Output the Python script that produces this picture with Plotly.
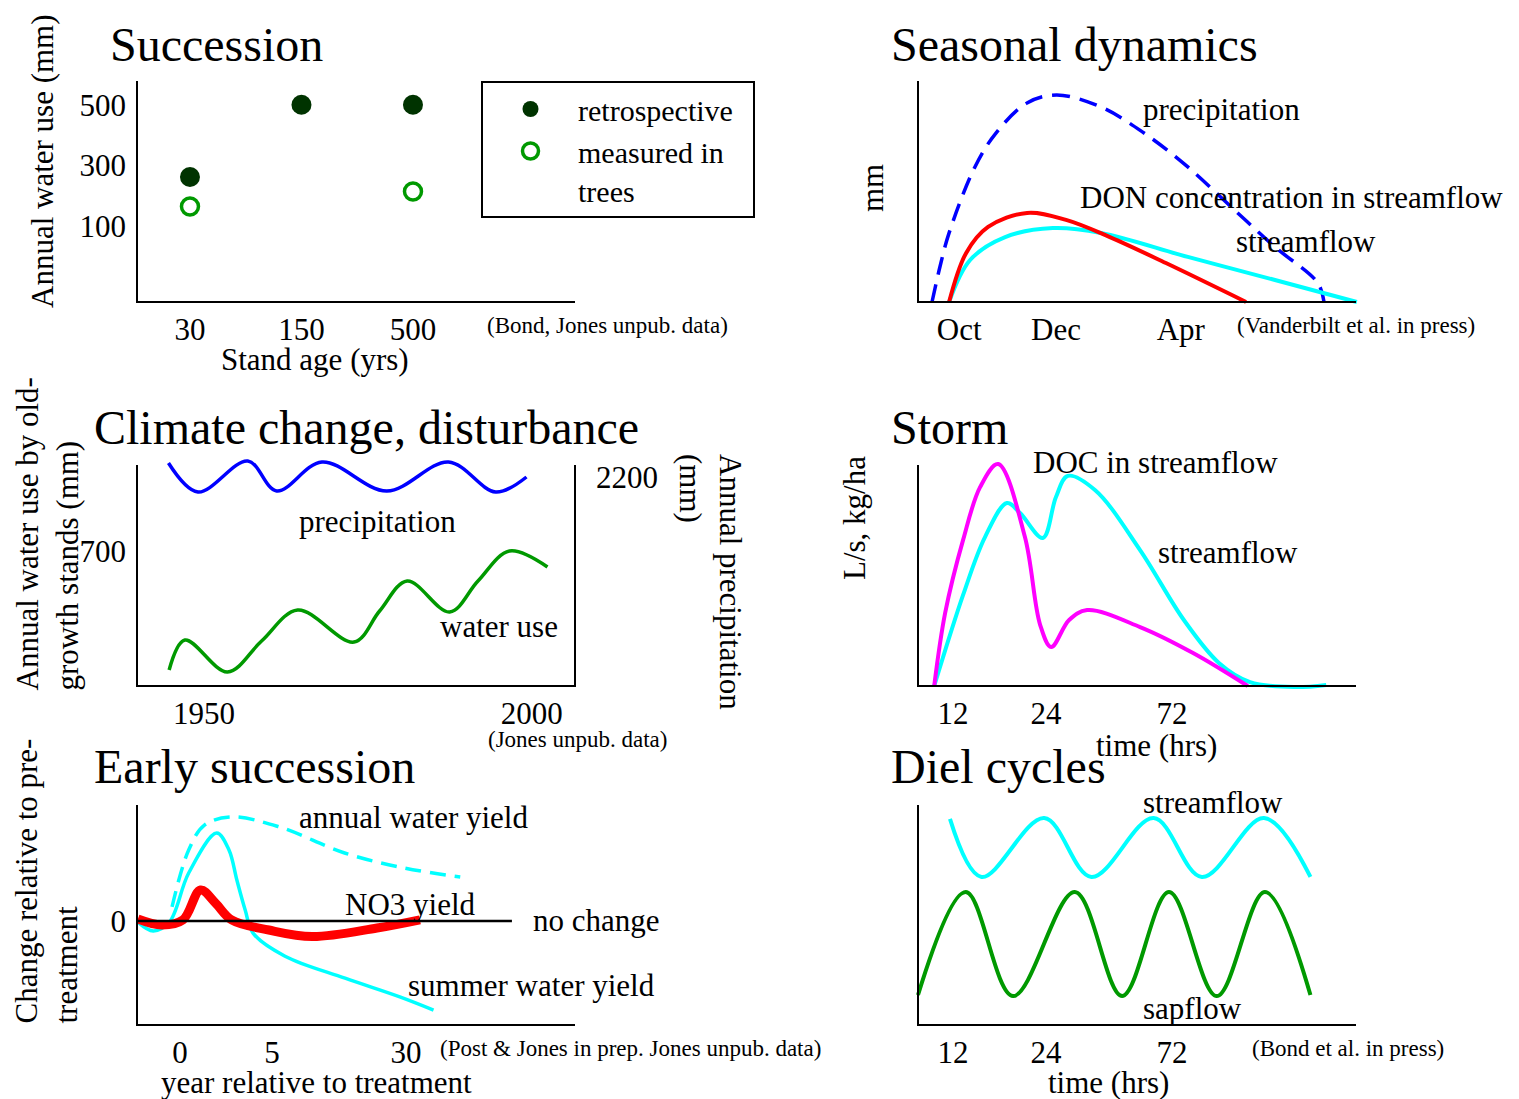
import plotly.graph_objects as go

W, H = 1519, 1099
FONT = "Liberation Serif"

# ---------------- data ----------------
# Panel 1: Succession
stand_age = ["30", "150", "500"]
retrospective_mm = [262, 500, 500]
measured_mm = [165, None, 214]

# Panel 2: Seasonal dynamics (relative units)
season_ticks = ["Oct", "Dec", "Apr"]
season_precip_t = [3.2, 5.0, 7.1, 13.0, 17.8, 24.9, 31.7, 41.8, 51.6, 61.6, 71.5, 81.5, 91.3, 92.7]
season_precip_v = [0, 15.9, 31.4, 61.4, 76.8, 90.5, 94.1, 88.6, 76.8, 61.4, 43.2, 25.0, 8.6, 0]
season_don_t = [7.1, 11.0, 16.0, 24.9, 33.8, 43.8, 56.6, 74.9]
season_don_v = [0, 22.3, 34.1, 40.5, 37.3, 29.5, 17.7, 0]
season_flow_t = [7.1, 11.9, 19.9, 30.8, 41.8, 61.6, 81.5, 100.2]
season_flow_v = [0, 19.1, 29.5, 33.6, 31.4, 20.5, 10.0, 0]

# Panel 3: Climate change, disturbance
climate_year_ticks = [1950, 2000]
climate_precip_year = [1944.6, 1949.1, 1956.7, 1961.1, 1968.0, 1977.9, 1987.3, 1994.5, 1999.2]
climate_precip_mm = [2340, 2050, 2360, 2060, 2350, 2060, 2350, 2050, 2200]
water_use_year = [1944.7, 1947.1, 1953.6, 1958.8, 1964.3, 1972.9, 1976.8, 1981.0, 1987.5, 1991.8, 1996.6, 2002.4]
water_use_mm = [462, 522, 458, 520, 582, 518, 580, 640, 578, 640, 700, 668]

# Panel 4: Storm (relative units)
hour_ticks = ["12", "24", "72"]
doc_t = [3.7, 6.2, 10.3, 14.2, 18.3, 24.4, 27.9, 30.4, 34.5, 38.6, 50.7, 62.8, 75.3]
doc_v = [0, 33.2, 66.4, 90.5, 100.9, 67.8, 27.7, 17.7, 30.0, 34.5, 26.8, 15.0, 0]
storm_flow_t = [3.7, 10.3, 15.3, 20.3, 23.3, 28.5, 31.5, 34.2, 40.4, 50.7, 60.7, 68.7, 75.8, 86.1, 93.2]
storm_flow_v = [0, 41.4, 67.7, 83.2, 78.6, 67.3, 85.9, 95.5, 89.1, 61.8, 30.0, 10.5, 1.8, -0.5, 0.5]

# Panel 5: Early succession (relative change)
treat_year_ticks = ["0", "5", "30"]
annual_t = [8.0, 11.8, 15.4, 21.6, 32.6, 47.4, 61.0, 73.8]
annual_v = [6.4, 32.3, 43.6, 47.3, 42.7, 30.9, 24.1, 20.0]
summer_t = [0.2, 3.7, 7.4, 11.8, 18.2, 21.0, 22.8, 24.7, 26.5, 33.8, 47.5, 60.0, 67.7]
summer_v = [-0.5, -4.5, -0.5, 21.8, 40.0, 32.3, 18.6, 5.0, -5.5, -16.0, -26.0, -34.5, -40.5]
no3_t = [0.2, 5.6, 10.5, 14.5, 17.9, 21.6, 30.1, 40.0, 54.8, 64.6]
no3_v = [0.9, -1.8, 0.5, 14.1, 8.2, 0.5, -4.1, -7.1, -3.2, 0.5]

# Panel 6: Diel cycles (relative units)
diel_flow_t = [7.3, 14.5, 28.8, 39.6, 53.8, 64.8, 79.0, 89.6]
diel_flow_v = [94.1, 67.6, 94.5, 67.6, 94.5, 67.6, 94.5, 67.6]
sapflow_t = [0, 10.9, 21.7, 35.8, 46.6, 57.3, 68.2, 79.2, 89.6]
sapflow_v = [13.7, 60.7, 13.2, 60.7, 13.2, 60.7, 13.2, 60.7, 13.7]

# ---------------- layout helpers ----------------
PAD = 10
PADB = 6


def xdom(p0, p1, v0, v1, pad=PAD):
    s = (v1 - v0) / (p1 - p0)
    return dict(domain=[(p0 - pad) / W, (p1 + pad) / W], range=[v0 - pad * s, v1 + pad * s])


def ydom(ptop, pbot, vbot, vtop, pad=PAD, padb=PADB):
    s = (vtop - vbot) / (pbot - ptop)
    return dict(domain=[1 - (pbot + padb) / H, 1 - (ptop - pad) / H],
                range=[vbot - padb * s, vtop + pad * s])


def base_axis(**kw):
    d = dict(showgrid=False, zeroline=False, showline=False, ticks="",
             tickfont=dict(family=FONT, size=31, color="black"), fixedrange=True)
    d.update(kw)
    return d


fig = go.Figure()

spl = dict(shape="spline", smoothing=1.0)

# Panel 1
fig.add_trace(go.Scatter(x=stand_age, y=retrospective_mm, mode="markers",
                         name="retrospective&nbsp;&nbsp;",
                         marker=dict(size=20, color="#003300"), xaxis="x", yaxis="y"))
fig.add_trace(go.Scatter(x=stand_age, y=measured_mm, mode="markers", name="measured in<br>trees",
                         marker=dict(size=17, color="#009900", symbol="circle-open",
                                     line=dict(color="#009900", width=3.5)), xaxis="x", yaxis="y"))

# Panel 2
fig.add_trace(go.Scatter(x=season_precip_t, y=season_precip_v, mode="lines", showlegend=False,
                         line=dict(color="#0000ff", width=3.5, dash="18px,10px", **spl), xaxis="x2", yaxis="y2"))
fig.add_trace(go.Scatter(x=season_flow_t, y=season_flow_v, mode="lines", showlegend=False,
                         line=dict(color="#00ffff", width=4, **spl), xaxis="x2", yaxis="y2"))
fig.add_trace(go.Scatter(x=season_don_t, y=season_don_v, mode="lines", showlegend=False,
                         line=dict(color="#ff0000", width=4, **spl), xaxis="x2", yaxis="y2"))

# Panel 3
fig.add_trace(go.Scatter(x=climate_precip_year, y=climate_precip_mm, mode="lines", showlegend=False,
                         line=dict(color="#0000ff", width=3.5, **spl), xaxis="x3", yaxis="y7"))
fig.add_trace(go.Scatter(x=water_use_year, y=water_use_mm, mode="lines", showlegend=False,
                         line=dict(color="#009900", width=3.5, **spl), xaxis="x3", yaxis="y3"))

# Panel 4
fig.add_trace(go.Scatter(x=storm_flow_t, y=storm_flow_v, mode="lines", showlegend=False,
                         line=dict(color="#00ffff", width=4, **spl), xaxis="x4", yaxis="y4"))
fig.add_trace(go.Scatter(x=doc_t, y=doc_v, mode="lines", showlegend=False,
                         line=dict(color="#ff00ff", width=4, **spl), xaxis="x4", yaxis="y4"))

# Panel 5
fig.add_trace(go.Scatter(x=annual_t, y=annual_v, mode="lines", showlegend=False,
                         line=dict(color="#00ffff", width=3.5, dash="16px,9px", **spl), xaxis="x5", yaxis="y5"))
fig.add_trace(go.Scatter(x=summer_t, y=summer_v, mode="lines", showlegend=False,
                         line=dict(color="#00ffff", width=3.5, **spl), xaxis="x5", yaxis="y5"))
fig.add_trace(go.Scatter(x=no3_t, y=no3_v, mode="lines", showlegend=False,
                         line=dict(color="#ff0000", width=9, **spl), xaxis="x5", yaxis="y5"))

# Panel 6
fig.add_trace(go.Scatter(x=diel_flow_t, y=diel_flow_v, mode="lines", showlegend=False,
                         line=dict(color="#00ffff", width=4, **spl), xaxis="x6", yaxis="y6"))
fig.add_trace(go.Scatter(x=sapflow_t, y=sapflow_v, mode="lines", showlegend=False,
                         line=dict(color="#009900", width=4, **spl), xaxis="x6", yaxis="y6"))

# ---------------- axes ----------------
XSO, YSO = 0, 0
layout_axes = dict(
    xaxis=base_axis(type="category", anchor="y", ticklabelstandoff=XSO, **xdom(137, 575, -0.475, 3.453)),
    yaxis=base_axis(anchor="x", tickvals=[100, 300, 500], ticklabelstandoff=YSO, **ydom(82, 302, -150, 575)),
    xaxis2=base_axis(anchor="y2", tickvals=[9.4, 31.5, 60.0], ticktext=season_ticks,
                     ticklabelstandoff=XSO, **xdom(918, 1356, 0, 100)),
    yaxis2=base_axis(anchor="x2", showticklabels=False, **ydom(82, 302, 0, 100)),
    xaxis3=base_axis(anchor="y3", tickvals=climate_year_ticks, ticklabelstandoff=XSO,
                     **xdom(137, 575, 1939.8, 2006.6)),
    yaxis3=base_axis(anchor="x3", tickvals=[700], ticklabelstandoff=YSO, **ydom(466, 686, 430, 870)),
    xaxis4=base_axis(anchor="y4", tickvals=[8.0, 29.2, 58.0], ticktext=hour_ticks,
                     ticklabelstandoff=XSO, **xdom(918, 1356, 0, 100)),
    yaxis4=base_axis(anchor="x4", showticklabels=False, **ydom(466, 686, 0, 100)),
    xaxis5=base_axis(anchor="y5", tickvals=[9.8, 30.8, 61.4], ticktext=treat_year_ticks,
                     ticklabelstandoff=XSO, **xdom(137, 575, 0, 100)),
    yaxis5=base_axis(anchor="x5", tickvals=[0], ticklabelstandoff=YSO, **ydom(806, 1025, -47.27, 52.27)),
    xaxis6=base_axis(anchor="y6", tickvals=[8.0, 29.2, 58.0], ticktext=hour_ticks,
                     ticklabelstandoff=XSO, **xdom(918, 1356, 0, 100)),
    yaxis6=base_axis(anchor="x6", showticklabels=False, **ydom(806, 1025, 0, 100)),
)
y7 = ydom(466, 686, 110, 2310)
layout_axes["yaxis7"] = base_axis(anchor="x3", overlaying="y3", side="right", tickvals=[2200],
                                  ticklabelstandoff=10, range=y7["range"])

# ---------------- shapes (axis lines) ----------------
def pline(x0, y0, x1, y1, w=2):
    return dict(type="line", xref="paper", yref="paper", x0=x0 / W, y0=1 - y0 / H, x1=x1 / W, y1=1 - y1 / H,
                line=dict(color="black", width=w))


shapes = [
    pline(137, 81, 137, 303), pline(136, 302, 575, 302),
    pline(918, 81, 918, 303), pline(917, 302, 1356, 302),
    pline(137, 465, 137, 687), pline(136, 686, 576, 686), pline(575, 465, 575, 687),
    pline(918, 465, 918, 687), pline(917, 686, 1356, 686),
    pline(137, 805, 137, 1026), pline(136, 1025, 575, 1025),
    pline(918, 805, 918, 1026), pline(917, 1025, 1356, 1025),
    # "no change" reference line at y = 0 in panel 5
    dict(type="line", xref="x5", yref="y5", x0=0, x1=85.6, y0=0, y1=0, line=dict(color="black", width=2.5)),
]

# ---------------- text ----------------
anns = []


def ann(text, x, y, size=31, xanchor="left", yanchor="middle", angle=0, align="left"):
    anns.append(dict(text=text, x=x / W, y=1 - y / H, xref="paper", yref="paper", showarrow=False,
                     xanchor=xanchor, yanchor=yanchor, textangle=angle, align=align,
                     font=dict(family=FONT, size=size, color="black")))


# titles
ann("Succession", 108, 44, 48)
ann("Seasonal dynamics", 889, 44, 48)
ann("Climate change, disturbance", 92, 427, 48)
ann("Storm", 889, 427, 48)
ann("Early succession", 92, 766, 48)
ann("Diel cycles", 889, 766, 48)

# in-plot labels
ann("precipitation", 1141, 109)
ann("DON concentration in streamflow", 1078, 197)
ann("streamflow", 1234, 241)
ann("precipitation", 377, 522, xanchor="center")
ann("water use", 438, 626)
ann("DOC in streamflow", 1031, 463)
ann("streamflow", 1156, 552)
ann("annual water yield", 297, 817)
ann("NO3 yield", 343, 904)
ann("no change", 531, 920)
ann("summer water yield", 406, 985)
ann("streamflow", 1141, 802)
ann("sapflow", 1141, 1008)

# axis titles
ann("Stand age (yrs)", 315, 359, xanchor="center")
ann("time (hrs)", 1156, 745, xanchor="center")
ann("year relative to treatment", 316, 1082, xanchor="center")
ann("time (hrs)", 1108, 1082, xanchor="center")
ann("Annual water use (mm)", 43, 161, xanchor="center", angle=-90)
ann("mm", 872, 188, xanchor="center", angle=-90)
ann("Annual water use by old-<br>growth stands (mm)", 47, 693, xanchor="center", yanchor="bottom", angle=-90)
ann("Annual precipitation<br>(mm)", 711, 452, xanchor="center", yanchor="top", angle=90)
ann("L/s, kg/ha", 854, 518, xanchor="center", angle=-90)
ann("Change relative to pre-<br>treatment", 46, 1026, xanchor="center", yanchor="bottom", angle=-90)

# sources
ann("(Bond, Jones unpub. data)", 485, 326, 23)
ann("(Vanderbilt et al. in press)", 1235, 326, 23)
ann("(Jones unpub. data)", 578, 739, 23, xanchor="center")
ann("(Post &amp; Jones in prep. Jones unpub. data)", 438, 1048, 23)
ann("(Bond et al. in press)", 1250, 1048, 23)

fig.update_layout(
    width=W, height=H, margin=dict(l=0, r=0, t=0, b=0),
    paper_bgcolor="white", plot_bgcolor="rgba(0,0,0,0)",
    font=dict(family=FONT, size=31, color="black"),
    showlegend=True,
    legend=dict(x=481 / W, y=1 - 81 / H, xanchor="left", yanchor="top", bgcolor="white",
                bordercolor="black", borderwidth=2, font=dict(family=FONT, size=30, color="black"),
                itemwidth=85, valign="top"),
    shapes=shapes, annotations=anns,
    **layout_axes,
)

fig.write_html("out.html")
